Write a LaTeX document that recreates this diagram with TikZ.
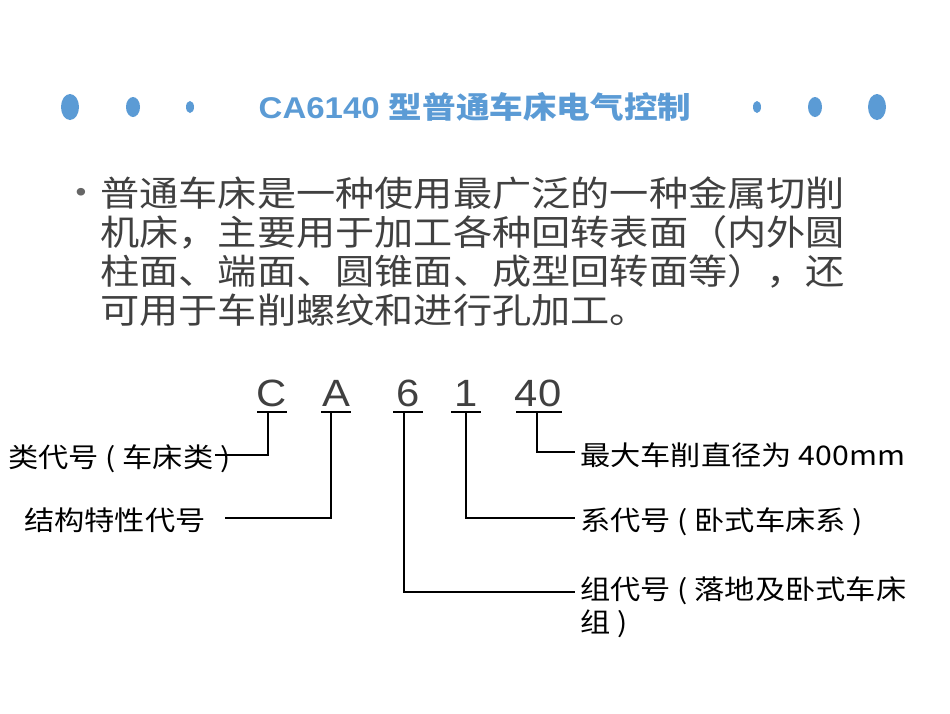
\documentclass[tikz,border=0pt]{standalone}
\usepackage{fontspec}
\setmainfont{Liberation Sans}[FakeStretch=1.1]
\newfontfamily\cjk{Noto Sans CJK SC}[FakeStretch=1.12]
\begin{document}
\begin{tikzpicture}[x=1pt,y=-1pt,
 lbl/.style={anchor=west,inner sep=0,font=\fontsize{27}{33}\selectfont\cjk,text=black},
 code/.style={inner sep=0,font=\fontsize{38}{40}\selectfont,text=black!75},
 ln/.style={line width=2pt}]
\useasboundingbox (0,0) rectangle (950,713);
\definecolor{tb}{HTML}{5B9BD5}
\foreach \x/\rx/\ry in {70/9/13,133/7/10,190/4/6,757/4/6,815/7/10,877/9/13}
  \fill[tb] (\x,107) ellipse [x radius=\rx, y radius=\ry];
\node[font=\fontsize{30}{32}\selectfont\bfseries,text=tb,inner sep=0] (title) at (475,107) {CA6140 {\cjk 型普通车床电气控制}};
\node[text=black!60,font=\fontsize{28}{30}\selectfont] (bul) at (81,195) {•};
\node[anchor=north west,inner sep=0,text=black!75,font=\fontsize{35}{38.7}\selectfont\cjk,align=left] (para) at (100,177)
 {普通车床是一种使用最广泛的一种金属切削\\机床，主要用于加工各种回转表面（内外圆\\柱面、端面、圆锥面、成型回转面等），还\\可用于车削螺纹和进行孔加工。};
\node[code] (c) at (272,393) {C};
\node[code] (a) at (336,393) {A};
\node[code] (six) at (408,393) {6};
\node[code] (one) at (466,393) {1};
\node[code] (forty) at (538,393) {40};
\draw[ln] (257,412) -- (287,412) (321,412) -- (351,412) (393,412) -- (423,412) (451,412) -- (481,412) (516,412) -- (562,412);
\node[lbl] (l1) at (8,459) {类代号 ( 车床类 )};
\node[lbl] (l2) at (24,520) {结构特性代号};
\node[lbl] (r1) at (580,455) {最大车削直径为 400mm};
\node[lbl] (r2) at (580,522) {系代号 ( 卧式车床系 )};
\node[lbl,align=left,anchor=north west] (r3) at (580,576) {组代号 ( 落地及卧式车床\\组 )};
\coordinate (c1) at (268,412); \coordinate (a1) at (331,412);
\coordinate (s1) at (404,412); \coordinate (o1) at (466,412); \coordinate (f1) at (537,412);
\draw[ln] (c1) |- (215,455);
\draw[ln] (a1) |- (225,518);
\draw[ln] (s1) |- (575,592);
\draw[ln] (o1) |- (575,518);
\draw[ln] (f1) |- (575,452);
\end{tikzpicture}
\end{document}
